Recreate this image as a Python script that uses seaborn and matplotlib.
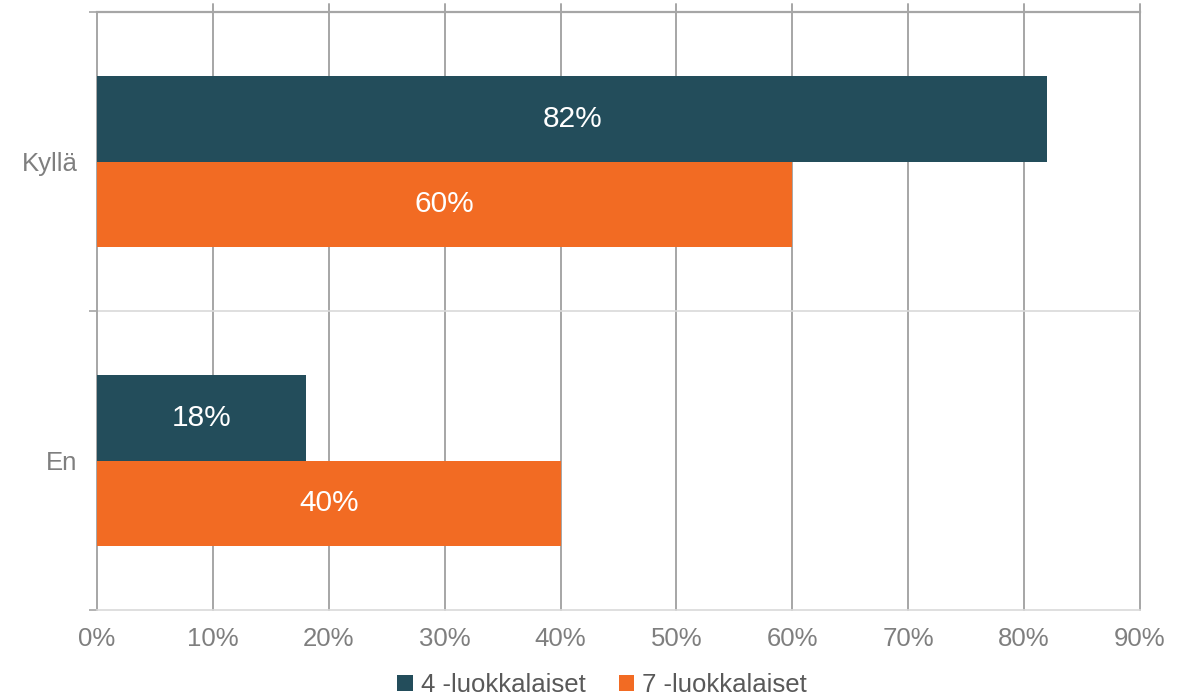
import matplotlib
matplotlib.use("Agg")
import matplotlib.pyplot as plt
from matplotlib.ticker import FuncFormatter, FixedLocator, MultipleLocator
import seaborn as sns
import pandas as pd

# Survey answers by grade group (percent of respondents)
answers = ["Kyllä", "En"]
groups = ["4 -luokkalaiset", "7 -luokkalaiset"]
grade4 = [82, 18]
grade7 = [60, 40]

colors = ["#234D5B", "#F26B23"]

df = pd.DataFrame({
    "answer": answers * 2,
    "group": [groups[0]] * len(answers) + [groups[1]] * len(answers),
    "value": grade4 + grade7,
})

sns.set_theme(style="white")
plt.rcParams["font.family"] = ["Liberation Sans", "DejaVu Sans"]

fig = plt.figure(figsize=(11.92, 6.98), dpi=100)
ax = fig.add_axes([97 / 1192, 1 - 610 / 698, (1140 - 97) / 1192, (610 - 12) / 698])

sns.barplot(data=df, x="value", y="answer", hue="group", order=answers,
            hue_order=groups, palette=colors, orient="h", width=0.572,
            saturation=1, linewidth=0, edgecolor="none", ax=ax, legend=True,
            zorder=3)

for cont in ax.containers:
    ax.bar_label(cont, labels=[f"{v:.0f}%" for v in cont.datavalues],
                 label_type="center", color="white", fontsize=21.5)

ax.set_xlim(0, 90)
ax.set_ylim(1.5, -0.5)
ax.xaxis.set_major_locator(MultipleLocator(10))
ax.xaxis.set_major_formatter(FuncFormatter(lambda v, p: f"{v:.0f}%"))
ax.set_xlabel("")
ax.set_ylabel("")

# vertical gridlines, reaching slightly above the plot area
for xv in range(10, 91, 10):
    ax.axvline(xv, color="#A6A6A6", lw=1.4, zorder=1, ymax=1.013, clip_on=False)

# category separator
ax.axhline(0.5, color="#D9D9D9", lw=1.2, zorder=1)

ax.tick_params(axis="x", colors="#7F7F7F", labelsize=18.5, length=0, pad=12)
ax.tick_params(axis="y", which="major", colors="#7F7F7F", labelsize=18.5, length=0, pad=14)
ax.yaxis.set_minor_locator(FixedLocator([-0.5, 0.5, 1.5]))
ax.tick_params(axis="y", which="minor", length=6, width=1.2, color="#A6A6A6", left=True)

for side, sp in ax.spines.items():
    sp.set_visible(True)
ax.spines["top"].set_color("#A6A6A6")
ax.spines["top"].set_linewidth(1.6)
ax.spines["left"].set_color("#A6A6A6")
ax.spines["left"].set_linewidth(1.4)
ax.spines["bottom"].set_color("#D9D9D9")
ax.spines["bottom"].set_linewidth(1.2)
ax.spines["right"].set_visible(False)

handles, labels = ax.get_legend_handles_labels()
ax.get_legend().remove()
fig.legend(handles, labels, loc="center", bbox_to_anchor=(0.505, 1 - 685 / 698),
           ncol=2, frameon=False, fontsize=18.5, labelcolor="#595959",
           handlelength=0.6, handleheight=0.6, handletextpad=0.3,
           columnspacing=1.3)

fig.savefig("out.png", dpi=100)
